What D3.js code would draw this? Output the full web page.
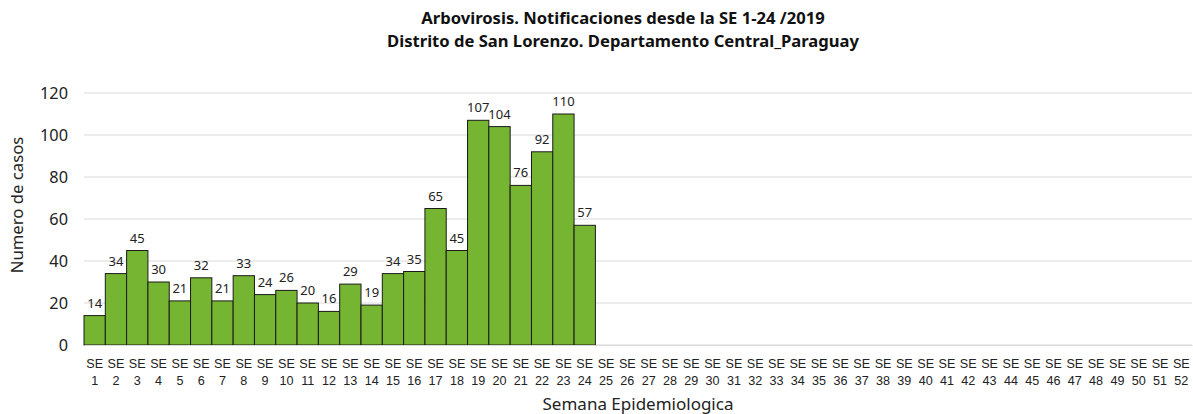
<!DOCTYPE html>
<html><head><meta charset="utf-8">
<script src="https://cdn.jsdelivr.net/npm/d3@7"></script>
<style>body{margin:0;background:#fff;} svg{display:block;font-family:"Noto Sans","Open Sans",sans-serif;}</style>
</head><body>
<svg id="c" width="1193" height="414"></svg>
<script>
const titleLines = ["Arbovirosis. Notificaciones desde la SE 1-24 /2019", "Distrito de San Lorenzo. Departamento Central_Paraguay"];
const weeks = d3.range(1, 53).map(i => "SE " + i);
const cases = [14,34,45,30,21,32,21,33,24,26,20,16,29,19,34,35,65,45,107,104,76,92,110,57];
const yTicks = [0,20,40,60,80,100,120];
const yTitle = "Numero de casos";
const xTitle = "Semana Epidemiologica";

const svg = d3.select("#c");
const m = {l:84, r:1, t:93, b:345};
const x = d3.scaleBand().domain(weeks).range([m.l, 1193 - m.r]).padding(0);
const y = d3.scaleLinear().domain([0,120]).range([m.b, m.t]);

// gridlines
svg.append("g").selectAll("line").data(yTicks).join("line")
  .attr("x1", m.l).attr("x2", 1193 - m.r)
  .attr("y1", d => y(d)).attr("y2", d => y(d))
  .attr("stroke", "#d9d9d9").attr("stroke-width", 1);

// y axis labels
const yAxis = d3.axisLeft(y).tickValues(yTicks).tickSize(0).tickPadding(16);
const gy = svg.append("g").attr("transform", `translate(${m.l},0)`).call(yAxis);
gy.select(".domain").remove();
gy.selectAll("text").attr("font-size", 16.3).attr("fill", "#222").attr("font-family", "Noto Sans");

// bars
const data = cases.map((v,i) => ({w: weeks[i], v}));
svg.append("g").selectAll("rect").data(data).join("rect")
  .attr("x", d => x(d.w)).attr("width", x.bandwidth())
  .attr("y", d => y(d.v)).attr("height", d => y(0) - y(d.v))
  .attr("fill", "#76b531").attr("stroke", "#1a1a1a").attr("stroke-width", 1);

// labels
svg.append("g").selectAll("text").data(data).join("text")
  .attr("x", d => x(d.w) + x.bandwidth()/2).attr("y", d => y(d.v) - 8)
  .attr("text-anchor", "middle").attr("font-size", 13).attr("fill", "#222")
  .text(d => d.v);

// x axis
const xAxis = d3.axisBottom(x).tickSize(0).tickFormat("");
const gx = svg.append("g").attr("transform", `translate(0,${m.b})`).call(xAxis);
gx.select(".domain").attr("stroke", "#d9d9d9");
gx.selectAll(".tick").each(function(d){
  const parts = d.split(" ");
  const t = d3.select(this).append("text").attr("fill", "#222").attr("font-size", 12.6).attr("text-anchor", "middle");
  t.append("tspan").attr("x", 0).attr("y", 23).text(parts[0]);
  t.append("tspan").attr("x", 0).attr("y", 40).text(parts[1]);
});

// titles
svg.append("g").selectAll("text").data(titleLines).join("text")
  .attr("x", 623).attr("y", (d,i) => 24 + i*23)
  .attr("text-anchor", "middle").attr("font-weight", "bold").attr("font-size", 16.6).attr("fill", "#111")
  .text(d => d);

svg.append("text").attr("x", 638).attr("y", 410).attr("text-anchor", "middle")
  .attr("font-size", 17).attr("fill", "#222").text(xTitle);
svg.append("text").attr("transform", `translate(23,205) rotate(-90)`)
  .attr("text-anchor", "middle").attr("font-size", 16.7).attr("fill", "#222").text(yTitle);
</script>
</body></html>
